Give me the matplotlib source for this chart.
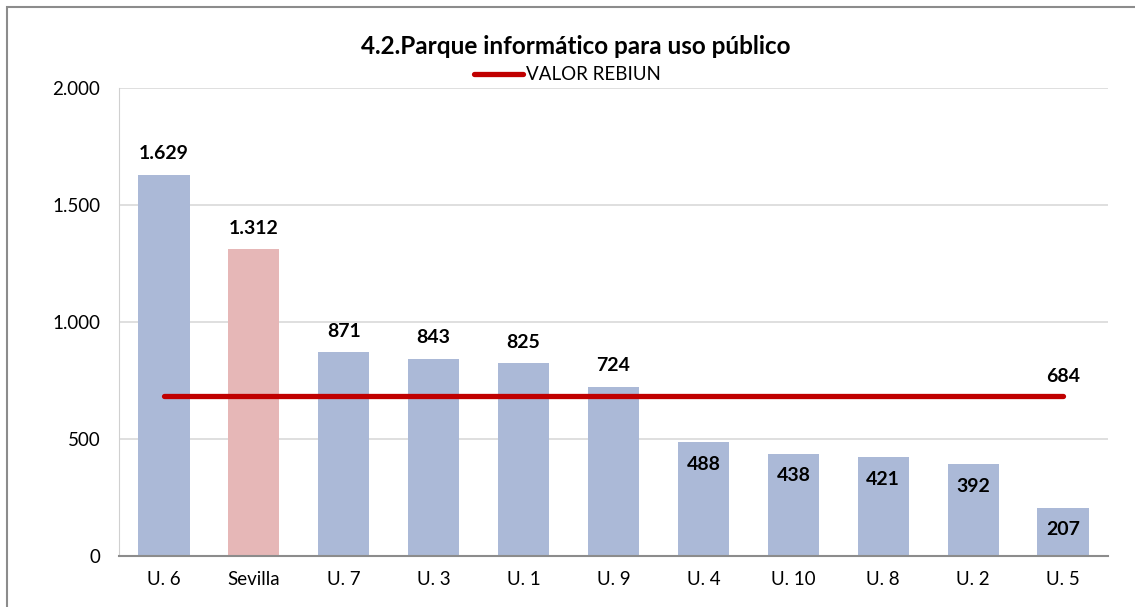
import numpy as np
import matplotlib.pyplot as plt
from matplotlib.patches import Rectangle
from matplotlib.ticker import FuncFormatter

plt.rcParams['font.family'] = ['Lato', 'DejaVu Sans']

# Data
universidades = ['U. 6', 'Sevilla', 'U. 7', 'U. 3', 'U. 1', 'U. 9', 'U. 4', 'U. 10', 'U. 8', 'U. 2', 'U. 5']
puestos = [1629, 1312, 871, 843, 825, 724, 488, 438, 421, 392, 207]
valor_rebiun = 684

blue = '#ABB9D7'
pink = '#E6B7B7'
colors = [pink if u == 'Sevilla' else blue for u in universidades]

fig = plt.figure(figsize=(11.35, 6.07), dpi=100)
ax = fig.add_axes([119 / 1135, 1 - 556 / 607, 989 / 1135, 468 / 607])

x = np.arange(len(universidades))
ax.bar(x, puestos, width=0.57, color=colors, zorder=2)

# REBIUN reference line from first to last bar centre
ax.plot([x[0], x[-1]], [valor_rebiun, valor_rebiun], color='#C00000', lw=3.8,
        solid_capstyle='round', zorder=3, label='VALOR REBIUN')
ax.annotate(f'{valor_rebiun}', (x[-1], valor_rebiun), xytext=(0, 14), textcoords='offset points',
            ha='center', va='center', fontsize=14, fontweight='bold')

def fmt(v):
    return f'{v:,}'.replace(',', '.')

for xi, v in zip(x, puestos):
    if v > valor_rebiun:
        off = 15
    else:
        off = -16
    ax.annotate(fmt(v), (xi, v), xytext=(0, off), textcoords='offset points',
                ha='center', va='center', fontsize=14, fontweight='bold', zorder=4)

ax.set_xlim(-0.5, len(universidades) - 0.5)
ax.set_ylim(0, 2000)
ax.set_yticks([0, 500, 1000, 1500, 2000])
ax.yaxis.set_major_formatter(FuncFormatter(lambda v, p: fmt(int(v))))
ax.set_xticks(x)
ax.set_xticklabels(universidades)
ax.tick_params(axis='both', length=0, labelsize=13.5)
ax.tick_params(axis='y', pad=13.5)
ax.tick_params(axis='x', pad=11)
ax.grid(axis='y', color='#D9D9D9', lw=1.2, zorder=0)

for s in ['top', 'right']:
    ax.spines[s].set_visible(False)
ax.spines['left'].set_color('#D0D0D0')
ax.spines['bottom'].set_color('#8C8C8C')
ax.spines['bottom'].set_linewidth(1.5)

fig.text(0.507, 1 - 46 / 607, '4.2.Parque informático para uso público', ha='center', va='center',
         fontsize=17.5, fontweight='bold')
fig.legend(loc='center', bbox_to_anchor=(0.5, 1 - 75 / 607), frameon=False, fontsize=13.5,
           handlelength=2.6, handletextpad=0.2, borderpad=0)

# outer chart border
fig.patches.append(Rectangle((7 / 1135, -0.1), 1.2, 1 - 7 / 607 + 0.1, transform=fig.transFigure,
                             fill=False, edgecolor='#8C8C8C', lw=1.5))

fig.savefig('out.png', dpi=100)
